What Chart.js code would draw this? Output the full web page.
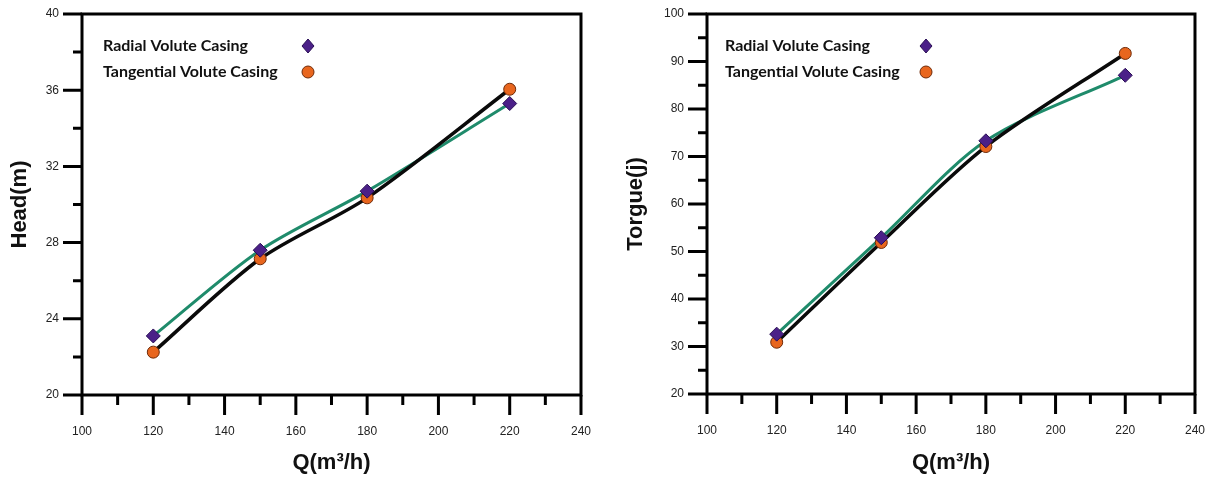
<!DOCTYPE html>
<html>
<head>
<meta charset="utf-8">
<script src="https://cdn.jsdelivr.net/npm/chart.js@4/dist/chart.umd.min.js"></script>
<style>
    body { margin: 0; background: #fff; }
    #wrap { position: relative; width: 1214px; height: 480px; }
    #head_box { position: absolute; left: 0; top: 0; width: 600px; height: 480px; }
    #torque_box { position: absolute; left: 607px; top: 0; width: 607px; height: 480px; }
</style>
</head>
<body>
<div id="wrap">
    <div id="head_box"><canvas id="head_view"></canvas></div>
    <div id="torque_box"><canvas id="torque_view"></canvas></div>
</div>
<script>
// flow rate values (m3/h)
const flow = [120, 150, 180, 220];

const head_radial = [23.1, 27.6, 30.7, 35.3];
const head_tangential = [22.25, 27.15, 30.35, 36.05];

const torque_radial = [32.6, 52.9, 73.3, 87.1];
const torque_tangential = [30.9, 51.9, 72.1, 91.7];

const series_names = ['Radial Volute Casing', 'Tangential Volute Casing'];

const GREEN = '#1f8b6b';
const PURPLE = '#4b2088';
const ORANGE = '#e8661e';

function to_points(values) {
    return flow.map((q, i) => ({ x: q, y: values[i] }));
}

// frame around the plot area, tick marks (long = major, short = minor) and the legend
const frame_plugin = {
    id: 'frame',
    afterDraw(chart, args, opts) {
        const ctx = chart.ctx;
        const area = chart.chartArea;
        const xs = chart.scales.x;
        const ys = chart.scales.y;

        ctx.save();
        ctx.strokeStyle = '#000';
        ctx.lineWidth = 3;
        ctx.lineCap = 'butt';
        ctx.strokeRect(area.left, area.top, area.right - area.left, area.bottom - area.top);

        ctx.beginPath();
        xs.ticks.forEach(t => {
            const px = xs.getPixelForValue(t.value);
            const len = t.value % opts.x_major === 0 ? 20 : 10;
            ctx.moveTo(px, area.bottom);
            ctx.lineTo(px, area.bottom + len);
        });
        ys.ticks.forEach(t => {
            const py = ys.getPixelForValue(t.value);
            const len = t.value % opts.y_major === 0 ? 19 : 9;
            ctx.moveTo(area.left, py);
            ctx.lineTo(area.left - len, py);
        });
        ctx.stroke();

        // legend: text first, marker on the right
        const lx = area.left + opts.legend_dx;
        const ly = area.top + 32;
        ctx.font = 'bold 16px Lato, "Noto Sans", sans-serif';
        ctx.fillStyle = '#111';
        ctx.textBaseline = 'middle';
        ctx.textAlign = 'left';
        ctx.fillText(series_names[0], lx, ly);
        ctx.fillText(series_names[1], lx, ly + 26);

        const mx = lx + opts.marker_dx;
        ctx.lineWidth = 1;
        ctx.fillStyle = PURPLE;
        ctx.strokeStyle = '#2a0f55';
        ctx.beginPath();
        ctx.moveTo(mx, ly - 7);
        ctx.lineTo(mx + 6, ly);
        ctx.lineTo(mx, ly + 7);
        ctx.lineTo(mx - 6, ly);
        ctx.closePath();
        ctx.fill();
        ctx.stroke();

        ctx.fillStyle = ORANGE;
        ctx.strokeStyle = '#6e2a08';
        ctx.beginPath();
        ctx.arc(mx, ly + 26, 6, 0, Math.PI * 2);
        ctx.fill();
        ctx.stroke();
        ctx.restore();
    }
};

/**
 * Build one of the two panels
 * @param {string} canvas_id canvas element
 * @param {Array<Number>} radial values of the radial casing
 * @param {Array<Number>} tangential values of the tangential casing
 * @param {object} cfg axis limits and layout numbers
 */
function make_panel(canvas_id, radial, tangential, cfg) {
    const canvas = document.getElementById(canvas_id);
    return new Chart(canvas, {
        type: 'line',
        data: {
            datasets: [{
                label: series_names[0] + ' line',
                data: to_points(radial),
                borderColor: GREEN,
                borderWidth: 3,
                pointRadius: 0,
                tension: 0.3,
                order: 3
            }, {
                label: series_names[1] + ' line',
                data: to_points(tangential),
                borderColor: '#0a0a0a',
                borderWidth: 3.5,
                pointRadius: 0,
                tension: 0.3,
                order: 2
            }, {
                label: series_names[1],
                data: to_points(tangential),
                showLine: false,
                pointStyle: 'circle',
                pointRadius: 6,
                pointBackgroundColor: ORANGE,
                pointBorderColor: '#6e2a08',
                pointBorderWidth: 1,
                order: 1
            }, {
                label: series_names[0],
                data: to_points(radial),
                showLine: false,
                pointStyle: 'rectRot',
                pointRadius: 7,
                pointBackgroundColor: PURPLE,
                pointBorderColor: '#2a0f55',
                pointBorderWidth: 1,
                order: 0
            }]
        },
        options: {
            responsive: true,
            maintainAspectRatio: false,
            animation: false,
            layout: {
                padding: { top: cfg.pad_top, right: cfg.pad_right, left: 0, bottom: 0 }
            },
            scales: {
                x: {
                    type: 'linear',
                    min: 100,
                    max: 240,
                    afterFit: (scale) => { scale.height = cfg.x_height; },
                    border: { display: false },
                    grid: { display: true, drawOnChartArea: false, drawTicks: true, tickLength: 20, color: 'transparent', tickColor: 'transparent' },
                    ticks: {
                        stepSize: 10,
                        autoSkip: false,
                        maxRotation: 0,
                        padding: 9,
                        color: '#222',
                        font: { family: '"Liberation Sans", Arial, sans-serif', size: 12 },
                        callback: (v) => (v % 20 === 0 ? v : '')
                    },
                    title: {
                        display: true,
                        text: 'Q(m³/h)',
                        color: '#111',
                        padding: { top: 0, bottom: 4 },
                        font: { family: '"Liberation Sans", Arial, sans-serif', size: 22, weight: 'bold' }
                    }
                },
                y: {
                    min: cfg.y_min,
                    max: cfg.y_max,
                    afterFit: (scale) => { scale.width = cfg.y_width; },
                    border: { display: false },
                    grid: { display: true, drawOnChartArea: false, drawTicks: true, tickLength: 19, color: 'transparent', tickColor: 'transparent' },
                    ticks: {
                        stepSize: cfg.y_step,
                        autoSkip: false,
                        padding: 4,
                        color: '#222',
                        font: { family: '"Liberation Sans", Arial, sans-serif', size: 12 },
                        callback: (v) => (v % cfg.y_major === 0 ? v : '')
                    },
                    title: {
                        display: true,
                        text: cfg.y_title,
                        color: '#111',
                        padding: { top: cfg.title_pad, bottom: 0 },
                        font: { family: '"Liberation Sans", Arial, sans-serif', size: 22, weight: 'bold' }
                    }
                }
            },
            plugins: {
                legend: { display: false },
                tooltip: { enabled: false },
                frame: { x_major: 20, y_major: cfg.y_major, legend_dx: cfg.legend_dx, marker_dx: cfg.marker_dx }
            }
        },
        plugins: [frame_plugin]
    });
}

make_panel('head_view', head_radial, head_tangential, {
    y_min: 20, y_max: 40, y_step: 2, y_major: 4, y_title: 'Head(m)',
    pad_top: 14, pad_right: 19, x_height: 85, y_width: 82, title_pad: 7,
    legend_dx: 21, marker_dx: 205
});

make_panel('torque_view', torque_radial, torque_tangential, {
    y_min: 20, y_max: 100, y_step: 5, y_major: 10, y_title: 'Torgue(j)',
    pad_top: 14, pad_right: 17, x_height: 86, y_width: 100, title_pad: 16,
    legend_dx: 18, marker_dx: 201
});
</script>
</body>
</html>
